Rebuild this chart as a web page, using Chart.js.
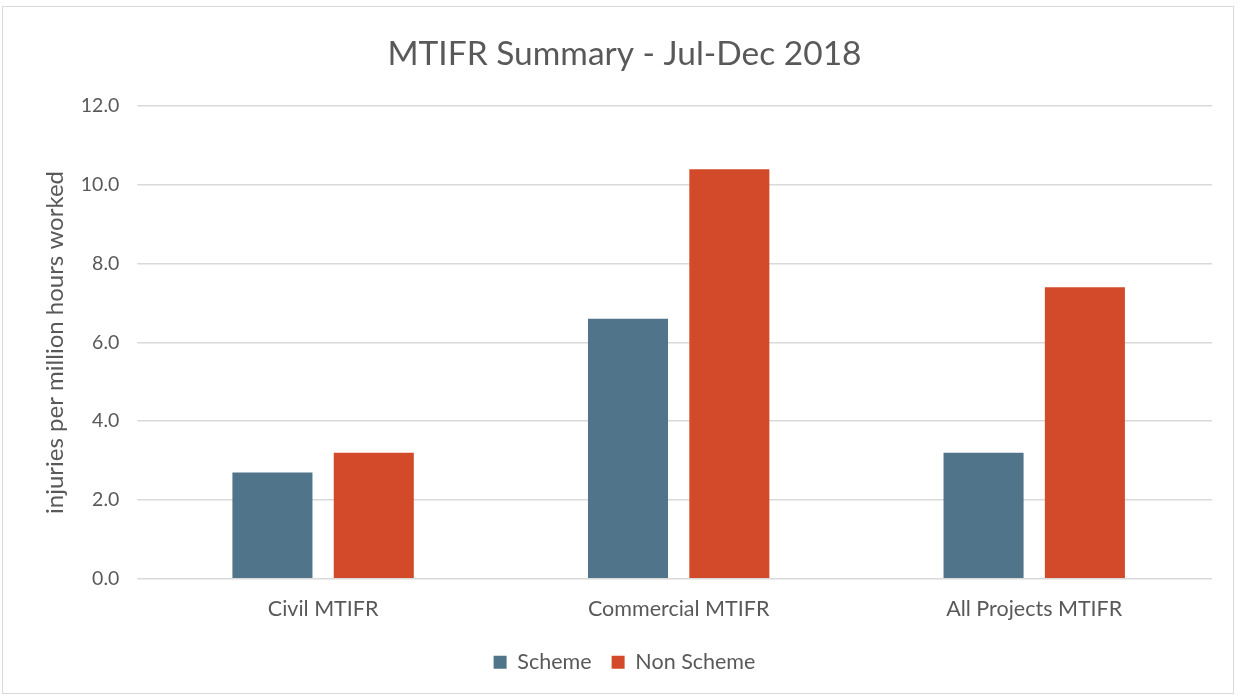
<!DOCTYPE html>
<html>
<head>
<meta charset="utf-8">
<script src="https://cdn.jsdelivr.net/npm/chart.js@4"></script>
<style>
  html, body { margin: 0; padding: 0; background: #fff; }
  .box { position: absolute; left: 2px; top: 6px; width: 1232px; height: 688px; border: 1px solid #d9d9d9; box-sizing: border-box; }
  canvas { position: absolute; left: 0; top: 0; }
</style>
</head>
<body>
<div class="box"></div>
<canvas id="bar" width="1238" height="697"></canvas>
<script>
const categories = ['Civil MTIFR', 'Commercial MTIFR', 'All Projects MTIFR'];
const scheme = [2.7, 6.6, 3.2];
const nonScheme = [3.2, 10.4, 7.4];

const ctx = document.getElementById('bar');
Chart.defaults.font.family = 'Lato, "Open Sans", sans-serif';
Chart.defaults.color = '#595959';

const bar = new Chart(ctx, {
  type: 'bar',
  data: {
    labels: categories,
    datasets: [{
      label: 'Scheme',
      data: scheme,
      backgroundColor: '#50758a'
    }, {
      label: 'Non Scheme',
      data: nonScheme,
      backgroundColor: '#d24a29'
    }]
  },
  options: {
    responsive: false,
    animation: false,
    categoryPercentage: 0.57,
    barPercentage: 0.79,
    layout: { padding: { left: 37, right: 26, top: 20, bottom: 14 } },
    plugins: {
      title: {
        display: true,
        text: 'MTIFR Summary - Jul-Dec 2018',
        font: { size: 33.5, weight: 'normal' },
        color: '#595959',
        padding: { top: 14, bottom: 32 }
      },
      legend: {
        position: 'bottom',
        labels: { boxWidth: 13, boxHeight: 13, font: { size: 21.5 }, padding: 20 }
      },
      tooltip: { enabled: false }
    },
    scales: {
      x: {
        grid: { display: false },
        border: { display: false },
        ticks: { font: { size: 21.5 }, padding: 9.5 }
      },
      y: {
        min: 0,
        max: 12,
        ticks: {
          stepSize: 2,
          font: { size: 19.5 },
          padding: 18,
          callback: v => v.toFixed(1)
        },
        grid: { color: '#d9d9d9', lineWidth: 1.5 },
        border: { display: false },
        title: {
          display: true,
          text: 'injuries per million hours worked',
          font: { size: 24 },
          padding: { top: 4, bottom: -7 }
        }
      }
    }
  }
});
</script>
</body>
</html>
